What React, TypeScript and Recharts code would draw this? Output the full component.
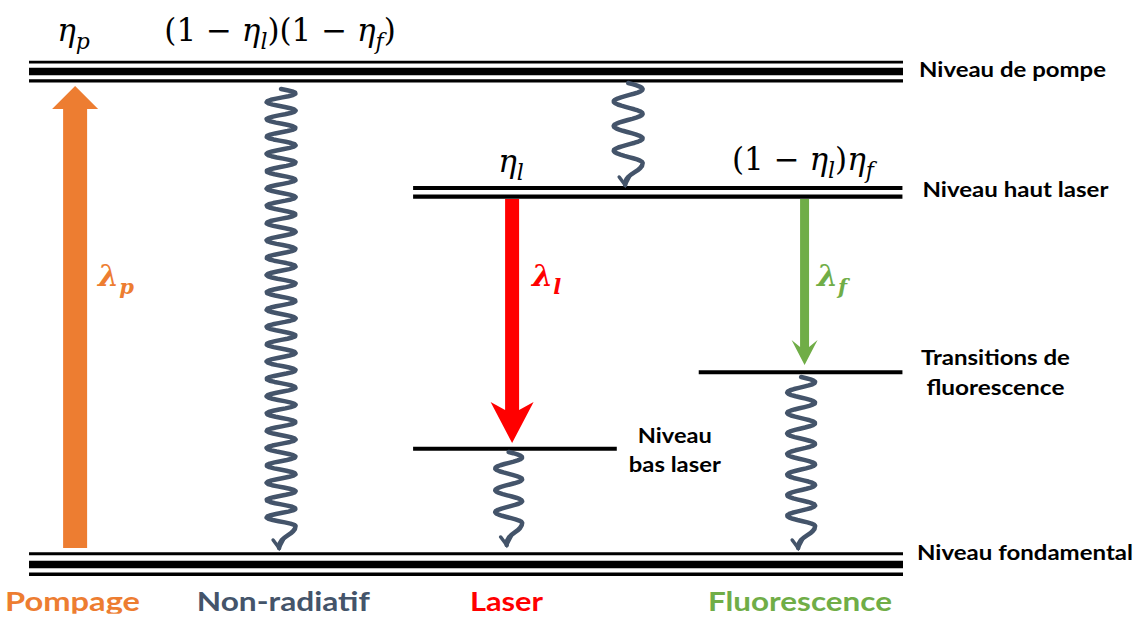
import React from 'react';
import { ComposedChart, XAxis, YAxis, ReferenceLine, ReferenceDot, Scatter } from 'recharts';

// ===================== DATA =====================
// Energy levels (arbitrary energy units, ground level = 0), horizontal extent in diagram units (0–100)
const levelEnergy = [10, 7.55, 3.9, 2.35, 0];
const levelStart = [2.55, 36.3, 61.4, 36.3, 2.55];
const levelEnd = [79.35, 79.3, 79.3, 54.2, 79.35];
const levelLabels = [
  ['Niveau de pompe'],
  ['Niveau haut laser'],
  ['Transitions de', 'fluorescence'],
  ['Niveau', 'bas laser'],
  ['Niveau fondamental'],
];

// Process columns (category labels under the ground level)
const processNames = ['Pompage', 'Non-radiatif', 'Laser', 'Fluorescence'];
const processX = [6.6, 24.7, 45, 70.7];

// Radiative transitions (thick arrows): column, start energy, end energy, wavelength subscript
const radiativeX = [6.6, 45, 70.7];
const radiativeFrom = [0, 7.55, 7.55];
const radiativeTo = [10, 2.35, 3.9];
const wavelengthSub = ['p', 'l', 'f'];
const LAMBDA_E = 5.75;

// Non-radiative relaxations (wavy arrows)
const nonRadX = [24.7, 55.2, 44.7, 70.4];
const nonRadFrom = [10, 10, 2.35, 3.9];
const nonRadTo = [0, 7.55, 0, 0];

// Quantum efficiencies written above the levels
const efficiencyX = [6.6, 24.7, 45, 70.7];
const efficiencyLevel = [10, 10, 7.55, 7.55];
const efficiencyText: [string, string][][] = [
  [['η', 'i'], ['p', 's']],
  [['(1 − ', 'n'], ['η', 'i'], ['l', 's'], [')(1 − ', 'n'], ['η', 'i'], ['f', 's'], [')', 'n']],
  [['η', 'i'], ['l', 's']],
  [['(1 − ', 'n'], ['η', 'i'], ['l', 's'], [')', 'n'], ['η', 'i'], ['f', 's']],
];

// ===================== STYLES =====================
const W = 1138;
const H = 619;
const BLACK = '#000000';
const processColor = ['#ED7D31', '#44546A', '#FF0000', '#70AD47'];
const radiativeColor = ['#ED7D31', '#FF0000', '#70AD47'];
const WAVE_COLOR = '#44546A';
const SANS = 'Lato, "Open Sans", sans-serif';
const MATH = '"DejaVu Serif", "Liberation Serif", serif';

// [pixel offset, stroke width] of each drawn line of a level
const levelStroke: [number, number][][] = [
  [[-9.3, 2.8], [0, 7.5], [9.3, 3.3]],
  [[-4.25, 4], [4.25, 4.3]],
  [[0, 4]],
  [[0, 4]],
  [[-10.7, 3], [0, 7.5], [9.7, 3.5]],
];
const levelLabelStyle = [
  { dx: 16, dy: [5.8], anchor: 'start', len: [187] },
  { dx: 20, dy: [5], anchor: 'start', len: [186] },
  { dx: 93, dy: [-7.2, 22.8], anchor: 'middle', len: [149, 138] },
  { dx: 58, dy: [-5.6, 23.5], anchor: 'middle', len: [74, 92] },
  { dx: 14, dy: [-4.5], anchor: 'start', len: [216] },
];
const processLabelStyle = [
  { dx: -2.6, len: 135 },
  { dx: 2.2, len: 173 },
  { dx: -5.6, len: 73 },
  { dx: -4.6, len: 184 },
];
const PROCESS_LABEL_DY = 46;
const arrowStyle = [
  { shaft: 24, head: 46, headLen: 23, notch: 0, gapStart: 16.5, gapEnd: 14.5, labelDx: 23 },
  { shaft: 14, head: 43, headLen: 41, notch: 8, gapStart: 6.75, gapEnd: 5.65, labelDx: 20 },
  { shaft: 9, head: 26, headLen: 25, notch: 7, gapStart: 6.75, gapEnd: 7.2, labelDx: 12.5 },
];
const LAMBDA_DY = 5;
const waveStyle = [
  { period: 17.5, amp: 14.5, gapStart: 17.5, gapEnd: 16.5, tipDx: -2 },
  { period: 22, amp: 14.5, gapStart: 11.5, gapEnd: 7.25, tipDx: -3 },
  { period: 22, amp: 13.5, gapStart: 3.35, gapEnd: 19.5, tipDx: -2 },
  { period: 22, amp: 14, gapStart: 4.8, gapEnd: 16.5, tipDx: -3 },
];
const EFF_SIZE = 31;
const efficiencyStyle = [
  { dx: -1.6, dy: -30.5 },
  { dx: -1, dy: -30.5 },
  { dx: -1, dy: -20 },
  { dx: -1.6, dy: -22 },
];

// ===================== RENDER HELPERS =====================
function MathText(props: {
  x: number; y: number; segs: [string, string][]; size: number; fill: string; weight?: number; anchor?: string;
}) {
  const { x, y, segs, size, fill, weight = 400, anchor = 'middle' } = props;
  const sub = Math.round(size * 0.7);
  const shift = size * 0.25;
  let down = false;
  const parts = segs.map(([t, k], j) => {
    let dy = 0;
    if (k === 's' && !down) { dy = shift; down = true; }
    else if (k !== 's' && down) { dy = -shift; down = false; }
    return (
      <tspan key={j} dy={dy} fontStyle={k === 'n' ? 'normal' : 'italic'} fontSize={k === 's' ? sub : size}>
        {t}
      </tspan>
    );
  });
  return (
    <text x={x} y={y} textAnchor={anchor as any} fill={fill} fontFamily={MATH} fontWeight={weight} fontSize={size}
      style={{ whiteSpace: 'pre' }}>
      {parts}
    </text>
  );
}

const levelShape = (i: number) => (p: any) => {
  const st = levelLabelStyle[i];
  return (
    <g>
      {levelStroke[i].map(([off, w], j) => (
        <line key={j} x1={p.x1} x2={p.x2} y1={p.y1 + off} y2={p.y2 + off} stroke={BLACK} strokeWidth={w} />
      ))}
      {levelLabels[i].map((t, j) => (
        <text key={'t' + j} x={p.x2 + st.dx} y={p.y2 + st.dy[j]} textAnchor={st.anchor as any}
          fontFamily={SANS} fontWeight={700} fontSize={21} fill={BLACK}
          textLength={st.len[j]} lengthAdjust="spacingAndGlyphs">
          {t}
        </text>
      ))}
    </g>
  );
};

const arrowShape = (i: number) => (p: any) => {
  const st = arrowStyle[i];
  const cx = p.x1;
  const dir = p.y2 > p.y1 ? 1 : -1;
  const ys = p.y1 + dir * st.gapStart;
  const yt = p.y2 - dir * st.gapEnd;
  const yb = yt - dir * st.headLen;
  const yn = yb + dir * st.notch;
  const s = st.shaft / 2;
  const h = st.head / 2;
  const pts = [
    [cx - s, ys], [cx - s, yn], [cx - h, yb], [cx, yt], [cx + h, yb], [cx + s, yn], [cx + s, ys],
  ].map(([a, b]) => `${a.toFixed(2)},${b.toFixed(2)}`).join(' ');
  return <polygon points={pts} fill={radiativeColor[i]} stroke="none" />;
};

const waveShape = (i: number) => (p: any) => {
  const st = waveStyle[i];
  const cx = p.x1;
  const ys = p.y1 + st.gapStart;
  const tipY = p.y2 - st.gapEnd;
  const tipX = p.x2 + st.tipDx;
  const tail = 22;
  const yP = tipY - tail;
  const D = yP - ys;
  const n = Math.max(1, Math.round((D - st.period / 4) / st.period));
  const P = D / (n + 0.25);
  const steps = Math.max(30, Math.round(D / 1.2));
  let d = `M ${cx.toFixed(2)} ${ys.toFixed(2)}`;
  for (let k = 1; k <= steps; k++) {
    const y = ys + (D * k) / steps;
    const x = cx + st.amp * Math.sin((2 * Math.PI * (y - ys)) / P);
    d += ` L ${x.toFixed(2)} ${y.toFixed(2)}`;
  }
  const c2x = tipX - 1;
  const c2y = tipY - 12;
  d += ` C ${(cx + st.amp).toFixed(2)} ${(yP + 9).toFixed(2)} ${c2x.toFixed(2)} ${c2y.toFixed(2)} ${tipX.toFixed(2)} ${tipY.toFixed(2)}`;
  const ux = tipX - c2x;
  const uy = tipY - c2y;
  const ul = Math.hypot(ux, uy);
  const bx = -ux / ul;
  const by = -uy / ul;
  const ang = (32 * Math.PI) / 180;
  const L = 10;
  const a1x = tipX + L * (bx * Math.cos(ang) - by * Math.sin(ang));
  const a1y = tipY + L * (bx * Math.sin(ang) + by * Math.cos(ang));
  const a2x = tipX + L * (bx * Math.cos(-ang) - by * Math.sin(-ang));
  const a2y = tipY + L * (bx * Math.sin(-ang) + by * Math.cos(-ang));
  const chev = `M ${a1x.toFixed(2)} ${a1y.toFixed(2)} L ${tipX.toFixed(2)} ${tipY.toFixed(2)} L ${a2x.toFixed(2)} ${a2y.toFixed(2)}`;
  return (
    <g>
      <path d={d} fill="none" stroke={WAVE_COLOR} strokeWidth={4.5} strokeLinejoin="round" strokeLinecap="round" />
      <path d={chev} fill="none" stroke={WAVE_COLOR} strokeWidth={3.5} strokeLinejoin="miter" strokeLinecap="round" />
    </g>
  );
};

const efficiencyShape = (i: number) => (p: any) => (
  <MathText x={p.cx + efficiencyStyle[i].dx} y={p.cy + efficiencyStyle[i].dy} segs={efficiencyText[i]} size={EFF_SIZE} fill={BLACK} />
);

const lambdaShape = (i: number) => (p: any) => (
  <MathText x={p.cx + arrowStyle[i].labelDx} y={p.cy + LAMBDA_DY} segs={[['λ', 'i'], [wavelengthSub[i], 's']]}
    size={30} fill={radiativeColor[i]} weight={700} anchor="start" />
);

const processLabelShape = (p: any) => {
  const i = p.payload.idx;
  const st = processLabelStyle[i];
  return (
    <text x={p.cx + st.dx} y={p.cy + PROCESS_LABEL_DY} textAnchor="middle" fontFamily={SANS} fontWeight={700}
      fontSize={27} fill={processColor[i]} textLength={st.len} lengthAdjust="spacingAndGlyphs">
      {p.payload.name}
    </text>
  );
};

export default function App() {
  const processData = processNames.map((name, idx) => ({ x: processX[idx], e: 0, name, idx }));
  return (
    <div style={{ position: 'absolute', left: 0, top: 0, width: W, height: H, background: '#ffffff' }}>
      <ComposedChart width={W} height={H} margin={{ top: 22.2, right: 0, bottom: 5.2, left: 0 }} style={{ overflow: 'visible' }}>
        <XAxis type="number" dataKey="x" domain={[0, 100]} hide allowDataOverflow />
        <YAxis type="number" dataKey="e" domain={[-1, 11]} hide allowDataOverflow />
        {levelEnergy.map((e, i) => (
          <ReferenceLine key={'lvl' + i} segment={[{ x: levelStart[i], y: e }, { x: levelEnd[i], y: e }]}
            shape={levelShape(i)} ifOverflow="visible" />
        ))}
        {radiativeX.map((x, i) => (
          <ReferenceLine key={'rad' + i} segment={[{ x, y: radiativeFrom[i] }, { x, y: radiativeTo[i] }]}
            shape={arrowShape(i)} ifOverflow="visible" />
        ))}
        {nonRadX.map((x, i) => (
          <ReferenceLine key={'nr' + i} segment={[{ x, y: nonRadFrom[i] }, { x, y: nonRadTo[i] }]}
            shape={waveShape(i)} ifOverflow="visible" />
        ))}
        {efficiencyX.map((x, i) => (
          <ReferenceDot key={'eff' + i} x={x} y={efficiencyLevel[i]} shape={efficiencyShape(i)} ifOverflow="visible" />
        ))}
        {radiativeX.map((x, i) => (
          <ReferenceDot key={'lam' + i} x={x} y={LAMBDA_E} shape={lambdaShape(i)} ifOverflow="visible" />
        ))}
        <Scatter data={processData} dataKey="e" isAnimationActive={false} shape={processLabelShape} />
      </ComposedChart>
    </div>
  );
}
